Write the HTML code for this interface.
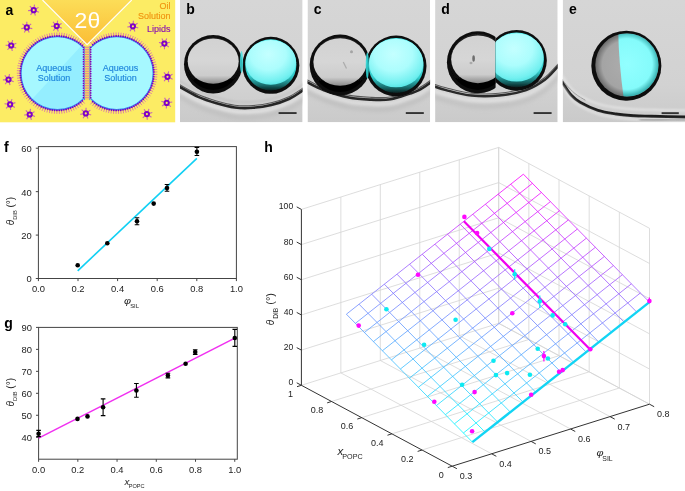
<!DOCTYPE html>
<html><head><meta charset="utf-8"><style>
html,body{margin:0;padding:0;background:#fff;}
svg{display:block;will-change:transform;}
text{font-family:"Liberation Sans", sans-serif;}
</style></head><body>
<svg width="685" height="491" viewBox="0 0 685 491">
<rect width="685" height="491" fill="#fff"/>
<rect x="0" y="0" width="175.2" height="122.3" fill="#FCEC64"/>
<defs><linearGradient id="tri" x1="0" y1="0" x2="0" y2="45" gradientUnits="userSpaceOnUse"><stop offset="0" stop-color="#FCDD58"/><stop offset="1" stop-color="#FBBD35"/></linearGradient></defs>
<polygon points="42.5,0 87.1,44.6 131.7,0" fill="url(#tri)"/>
<polyline points="42.5,0 87.1,44.6 131.7,0" fill="none" stroke="#fff" stroke-width="1.1"/>
<text transform="translate(87.4 27.7) scale(1.08 1)" font-size="21.3" fill="#fff" text-anchor="middle">2θ</text>
<defs><clipPath id="cl"><rect x="0" y="0" width="83.5" height="130"/></clipPath><clipPath id="cr"><rect x="90.7" y="0" width="100" height="130"/></clipPath><clipPath id="cl2"><circle cx="57.5" cy="73.2" r="37.1"/></clipPath></defs>
<path d="M82.73 101.34L84.67 103.5M80.94 102.86L82.73 105.13M79.05 104.26L80.7 106.64M77.07 105.54L78.58 108.02M75.03 106.69L76.37 109.26M72.91 107.72L74.09 110.36M70.73 108.61L71.75 111.32M68.51 109.36L69.35 112.14M66.24 109.98L66.91 112.8M63.94 110.45L64.43 113.31M61.61 110.78L61.92 113.66M59.26 110.96L59.4 113.86M56.91 111L56.87 113.9M54.56 110.89L54.34 113.78M52.23 110.63L51.82 113.5M49.91 110.23L49.33 113.07M47.62 109.69L46.86 112.49M45.37 109L44.44 111.75M43.17 108.18L42.07 110.86M41.02 107.22L39.76 109.83M38.94 106.13L37.52 108.66M36.93 104.91L35.35 107.35M35 103.57L33.27 105.9M33.15 102.11L31.28 104.33M31.4 100.54L29.4 102.64M29.75 98.87L27.62 100.84M28.21 97.09L25.96 98.93M26.78 95.23L24.42 96.92M25.47 93.28L23.01 94.82M24.29 91.25L21.74 92.63M23.23 89.15L20.6 90.37M22.3 86.98L19.6 88.04M21.51 84.77L18.75 85.66M20.86 82.51L18.05 83.22M20.36 80.21L17.51 80.75M19.99 77.89L17.11 78.25M19.77 75.55L16.88 75.73M19.7 73.2L16.8 73.2M19.77 70.85L16.88 70.67M19.99 68.51L17.11 68.15M20.36 66.19L17.51 65.65M20.86 63.89L18.05 63.18M21.51 61.63L18.75 60.74M22.3 59.42L19.6 58.36M23.23 57.25L20.6 56.03M24.29 55.15L21.74 53.77M25.47 53.12L23.01 51.58M26.78 51.17L24.42 49.48M28.21 49.31L25.96 47.47M29.75 47.53L27.62 45.56M31.4 45.86L29.4 43.76M33.15 44.29L31.28 42.07M35 42.83L33.27 40.5M36.93 41.49L35.35 39.05M38.94 40.27L37.52 37.74M41.02 39.18L39.76 36.57M43.17 38.22L42.07 35.54M45.37 37.4L44.44 34.65M47.62 36.71L46.86 33.91M49.91 36.17L49.33 33.33M52.23 35.77L51.82 32.9M54.56 35.51L54.34 32.62M56.91 35.4L56.87 32.5M59.26 35.44L59.4 32.54M61.61 35.62L61.92 32.74M63.94 35.95L64.43 33.09M66.24 36.42L66.91 33.6M68.51 37.04L69.35 34.26M70.73 37.79L71.75 35.08M72.91 38.68L74.09 36.04M75.03 39.71L76.37 37.14M77.07 40.86L78.58 38.38M79.05 42.14L80.7 39.76M80.94 43.54L82.73 41.27M82.73 45.06L84.67 42.9" stroke="#DC86A0" stroke-width="1.0" fill="none"/>
<circle cx="57.5" cy="73.2" r="37.1" fill="#A6F8FF" clip-path="url(#cl)"/>
<path d="M154.48 74.38L157.38 74.47M154.34 76.72L157.22 76.99M154.04 79.06L156.91 79.5M153.61 81.37L156.44 81.99M153.03 83.64L155.82 84.45M152.31 85.88L155.04 86.86M151.45 88.07L154.12 89.21M150.46 90.2L153.05 91.51M149.34 92.27L151.84 93.73M148.09 94.26L150.5 95.88M146.72 96.17L149.02 97.93M145.23 97.99L147.42 99.9M143.64 99.72L145.7 101.75M141.93 101.34L143.87 103.5M140.14 102.86L141.93 105.13M138.25 104.26L139.9 106.64M136.27 105.54L137.78 108.02M134.23 106.69L135.57 109.26M132.11 107.72L133.29 110.36M129.93 108.61L130.95 111.32M127.71 109.36L128.55 112.14M125.44 109.98L126.11 112.8M123.14 110.45L123.63 113.31M120.81 110.78L121.12 113.66M118.46 110.96L118.6 113.86M116.11 111L116.07 113.9M113.76 110.89L113.54 113.78M111.43 110.63L111.02 113.5M109.11 110.23L108.53 113.07M106.82 109.69L106.06 112.49M104.57 109L103.64 111.75M102.37 108.18L101.27 110.86M100.22 107.22L98.96 109.83M98.14 106.13L96.72 108.66M96.13 104.91L94.55 107.35M94.2 103.57L92.47 105.9M92.35 102.11L90.48 104.33M92.35 44.29L90.48 42.07M94.2 42.83L92.47 40.5M96.13 41.49L94.55 39.05M98.14 40.27L96.72 37.74M100.22 39.18L98.96 36.57M102.37 38.22L101.27 35.54M104.57 37.4L103.64 34.65M106.82 36.71L106.06 33.91M109.11 36.17L108.53 33.33M111.43 35.77L111.02 32.9M113.76 35.51L113.54 32.62M116.11 35.4L116.07 32.5M118.46 35.44L118.6 32.54M120.81 35.62L121.12 32.74M123.14 35.95L123.63 33.09M125.44 36.42L126.11 33.6M127.71 37.04L128.55 34.26M129.93 37.79L130.95 35.08M132.11 38.68L133.29 36.04M134.23 39.71L135.57 37.14M136.27 40.86L137.78 38.38M138.25 42.14L139.9 39.76M140.14 43.54L141.93 41.27M141.93 45.06L143.87 42.9M143.64 46.68L145.7 44.65M145.23 48.41L147.42 46.5M146.72 50.23L149.02 48.47M148.09 52.14L150.5 50.52M149.34 54.13L151.84 52.67M150.46 56.2L153.05 54.89M151.45 58.33L154.12 57.19M152.31 60.52L155.04 59.54M153.03 62.76L155.82 61.95M153.61 65.03L156.44 64.41M154.04 67.34L156.91 66.9M154.34 69.68L157.22 69.41M154.48 72.02L157.38 71.93" stroke="#DC86A0" stroke-width="1.0" fill="none"/>
<circle cx="116.7" cy="73.2" r="37.1" fill="#A6F8FF" clip-path="url(#cr)"/>
<polygon points="83.8,43 90,43 90,115 17.5,115" fill="#94EEFF" clip-path="url(#cl2)"/>
<circle cx="57.5" cy="73.2" r="36.5" fill="none" stroke="#3A90F0" stroke-width="1.3" clip-path="url(#cl)"/>
<circle cx="116.7" cy="73.2" r="36.5" fill="none" stroke="#3A90F0" stroke-width="1.3" clip-path="url(#cr)"/>
<g fill="#7A00C4"><circle cx="82.33" cy="100.9" r="0.95"/><circle cx="80.56" cy="102.39" r="0.95"/><circle cx="78.71" cy="103.76" r="0.95"/><circle cx="76.76" cy="105.02" r="0.95"/><circle cx="74.75" cy="106.16" r="0.95"/><circle cx="72.67" cy="107.17" r="0.95"/><circle cx="70.52" cy="108.05" r="0.95"/><circle cx="68.33" cy="108.79" r="0.95"/><circle cx="66.1" cy="109.39" r="0.95"/><circle cx="63.83" cy="109.86" r="0.95"/><circle cx="61.54" cy="110.18" r="0.95"/><circle cx="59.24" cy="110.36" r="0.95"/><circle cx="56.92" cy="110.4" r="0.95"/><circle cx="54.61" cy="110.29" r="0.95"/><circle cx="52.31" cy="110.04" r="0.95"/><circle cx="50.03" cy="109.64" r="0.95"/><circle cx="47.78" cy="109.11" r="0.95"/><circle cx="45.57" cy="108.43" r="0.95"/><circle cx="43.4" cy="107.62" r="0.95"/><circle cx="41.29" cy="106.68" r="0.95"/><circle cx="39.24" cy="105.61" r="0.95"/><circle cx="37.26" cy="104.41" r="0.95"/><circle cx="35.35" cy="103.09" r="0.95"/><circle cx="33.54" cy="101.66" r="0.95"/><circle cx="31.82" cy="100.11" r="0.95"/><circle cx="30.19" cy="98.46" r="0.95"/><circle cx="28.68" cy="96.72" r="0.95"/><circle cx="27.27" cy="94.88" r="0.95"/><circle cx="25.98" cy="92.96" r="0.95"/><circle cx="24.81" cy="90.96" r="0.95"/><circle cx="23.77" cy="88.89" r="0.95"/><circle cx="22.86" cy="86.77" r="0.95"/><circle cx="22.09" cy="84.59" r="0.95"/><circle cx="21.45" cy="82.36" r="0.95"/><circle cx="20.95" cy="80.1" r="0.95"/><circle cx="20.59" cy="77.82" r="0.95"/><circle cx="20.37" cy="75.51" r="0.95"/><circle cx="20.3" cy="73.2" r="0.95"/><circle cx="20.37" cy="70.89" r="0.95"/><circle cx="20.59" cy="68.58" r="0.95"/><circle cx="20.95" cy="66.3" r="0.95"/><circle cx="21.45" cy="64.04" r="0.95"/><circle cx="22.09" cy="61.81" r="0.95"/><circle cx="22.86" cy="59.63" r="0.95"/><circle cx="23.77" cy="57.51" r="0.95"/><circle cx="24.81" cy="55.44" r="0.95"/><circle cx="25.98" cy="53.44" r="0.95"/><circle cx="27.27" cy="51.52" r="0.95"/><circle cx="28.68" cy="49.68" r="0.95"/><circle cx="30.19" cy="47.94" r="0.95"/><circle cx="31.82" cy="46.29" r="0.95"/><circle cx="33.54" cy="44.74" r="0.95"/><circle cx="35.35" cy="43.31" r="0.95"/><circle cx="37.26" cy="41.99" r="0.95"/><circle cx="39.24" cy="40.79" r="0.95"/><circle cx="41.29" cy="39.72" r="0.95"/><circle cx="43.4" cy="38.78" r="0.95"/><circle cx="45.57" cy="37.97" r="0.95"/><circle cx="47.78" cy="37.29" r="0.95"/><circle cx="50.03" cy="36.76" r="0.95"/><circle cx="52.31" cy="36.36" r="0.95"/><circle cx="54.61" cy="36.11" r="0.95"/><circle cx="56.92" cy="36" r="0.95"/><circle cx="59.24" cy="36.04" r="0.95"/><circle cx="61.54" cy="36.22" r="0.95"/><circle cx="63.83" cy="36.54" r="0.95"/><circle cx="66.1" cy="37.01" r="0.95"/><circle cx="68.33" cy="37.61" r="0.95"/><circle cx="70.52" cy="38.35" r="0.95"/><circle cx="72.67" cy="39.23" r="0.95"/><circle cx="74.75" cy="40.24" r="0.95"/><circle cx="76.76" cy="41.38" r="0.95"/><circle cx="78.71" cy="42.64" r="0.95"/><circle cx="80.56" cy="44.01" r="0.95"/><circle cx="82.33" cy="45.5" r="0.95"/></g>
<g fill="#7A00C4"><circle cx="153.88" cy="74.36" r="0.95"/><circle cx="153.74" cy="76.67" r="0.95"/><circle cx="153.45" cy="78.96" r="0.95"/><circle cx="153.02" cy="81.24" r="0.95"/><circle cx="152.45" cy="83.48" r="0.95"/><circle cx="151.74" cy="85.68" r="0.95"/><circle cx="150.9" cy="87.84" r="0.95"/><circle cx="149.92" cy="89.93" r="0.95"/><circle cx="148.82" cy="91.97" r="0.95"/><circle cx="147.59" cy="93.93" r="0.95"/><circle cx="146.24" cy="95.81" r="0.95"/><circle cx="144.78" cy="97.6" r="0.95"/><circle cx="143.21" cy="99.3" r="0.95"/><circle cx="141.53" cy="100.9" r="0.95"/><circle cx="139.76" cy="102.39" r="0.95"/><circle cx="137.91" cy="103.76" r="0.95"/><circle cx="135.96" cy="105.02" r="0.95"/><circle cx="133.95" cy="106.16" r="0.95"/><circle cx="131.87" cy="107.17" r="0.95"/><circle cx="129.72" cy="108.05" r="0.95"/><circle cx="127.53" cy="108.79" r="0.95"/><circle cx="125.3" cy="109.39" r="0.95"/><circle cx="123.03" cy="109.86" r="0.95"/><circle cx="120.74" cy="110.18" r="0.95"/><circle cx="118.44" cy="110.36" r="0.95"/><circle cx="116.12" cy="110.4" r="0.95"/><circle cx="113.81" cy="110.29" r="0.95"/><circle cx="111.51" cy="110.04" r="0.95"/><circle cx="109.23" cy="109.64" r="0.95"/><circle cx="106.98" cy="109.11" r="0.95"/><circle cx="104.77" cy="108.43" r="0.95"/><circle cx="102.6" cy="107.62" r="0.95"/><circle cx="100.49" cy="106.68" r="0.95"/><circle cx="98.44" cy="105.61" r="0.95"/><circle cx="96.46" cy="104.41" r="0.95"/><circle cx="94.55" cy="103.09" r="0.95"/><circle cx="92.74" cy="101.66" r="0.95"/><circle cx="92.74" cy="44.74" r="0.95"/><circle cx="94.55" cy="43.31" r="0.95"/><circle cx="96.46" cy="41.99" r="0.95"/><circle cx="98.44" cy="40.79" r="0.95"/><circle cx="100.49" cy="39.72" r="0.95"/><circle cx="102.6" cy="38.78" r="0.95"/><circle cx="104.77" cy="37.97" r="0.95"/><circle cx="106.98" cy="37.29" r="0.95"/><circle cx="109.23" cy="36.76" r="0.95"/><circle cx="111.51" cy="36.36" r="0.95"/><circle cx="113.81" cy="36.11" r="0.95"/><circle cx="116.12" cy="36" r="0.95"/><circle cx="118.44" cy="36.04" r="0.95"/><circle cx="120.74" cy="36.22" r="0.95"/><circle cx="123.03" cy="36.54" r="0.95"/><circle cx="125.3" cy="37.01" r="0.95"/><circle cx="127.53" cy="37.61" r="0.95"/><circle cx="129.72" cy="38.35" r="0.95"/><circle cx="131.87" cy="39.23" r="0.95"/><circle cx="133.95" cy="40.24" r="0.95"/><circle cx="135.96" cy="41.38" r="0.95"/><circle cx="137.91" cy="42.64" r="0.95"/><circle cx="139.76" cy="44.01" r="0.95"/><circle cx="141.53" cy="45.5" r="0.95"/><circle cx="143.21" cy="47.1" r="0.95"/><circle cx="144.78" cy="48.8" r="0.95"/><circle cx="146.24" cy="50.59" r="0.95"/><circle cx="147.59" cy="52.47" r="0.95"/><circle cx="148.82" cy="54.43" r="0.95"/><circle cx="149.92" cy="56.47" r="0.95"/><circle cx="150.9" cy="58.56" r="0.95"/><circle cx="151.74" cy="60.72" r="0.95"/><circle cx="152.45" cy="62.92" r="0.95"/><circle cx="153.02" cy="65.16" r="0.95"/><circle cx="153.45" cy="67.44" r="0.95"/><circle cx="153.74" cy="69.73" r="0.95"/><circle cx="153.88" cy="72.04" r="0.95"/></g>
<rect x="84.1" y="46.3" width="6" height="53.8" fill="#F8D460"/>
<line x1="84.4" y1="46.3" x2="84.4" y2="100.1" stroke="#3A90F0" stroke-width="1.0"/>
<line x1="89.8" y1="46.3" x2="89.8" y2="100.1" stroke="#3A90F0" stroke-width="1.0"/>
<path d="M84 47.3H90.2M84 49.7H90.2M84 52.1H90.2M84 54.5H90.2M84 56.9H90.2M84 59.3H90.2M84 61.7H90.2M84 64.1H90.2M84 66.5H90.2M84 68.9H90.2M84 71.3H90.2M84 73.7H90.2M84 76.1H90.2M84 78.5H90.2M84 80.9H90.2M84 83.3H90.2M84 85.7H90.2M84 88.1H90.2M84 90.5H90.2M84 92.9H90.2M84 95.3H90.2M84 97.7H90.2" stroke="#D88C96" stroke-width="1.0"/>
<g fill="#7A00C4"><circle cx="83.5" cy="47.3" r="0.85"/><circle cx="90.7" cy="47.3" r="0.85"/><circle cx="83.5" cy="49.7" r="0.85"/><circle cx="90.7" cy="49.7" r="0.85"/><circle cx="83.5" cy="52.1" r="0.85"/><circle cx="90.7" cy="52.1" r="0.85"/><circle cx="83.5" cy="54.5" r="0.85"/><circle cx="90.7" cy="54.5" r="0.85"/><circle cx="83.5" cy="56.9" r="0.85"/><circle cx="90.7" cy="56.9" r="0.85"/><circle cx="83.5" cy="59.3" r="0.85"/><circle cx="90.7" cy="59.3" r="0.85"/><circle cx="83.5" cy="61.7" r="0.85"/><circle cx="90.7" cy="61.7" r="0.85"/><circle cx="83.5" cy="64.1" r="0.85"/><circle cx="90.7" cy="64.1" r="0.85"/><circle cx="83.5" cy="66.5" r="0.85"/><circle cx="90.7" cy="66.5" r="0.85"/><circle cx="83.5" cy="68.9" r="0.85"/><circle cx="90.7" cy="68.9" r="0.85"/><circle cx="83.5" cy="71.3" r="0.85"/><circle cx="90.7" cy="71.3" r="0.85"/><circle cx="83.5" cy="73.7" r="0.85"/><circle cx="90.7" cy="73.7" r="0.85"/><circle cx="83.5" cy="76.1" r="0.85"/><circle cx="90.7" cy="76.1" r="0.85"/><circle cx="83.5" cy="78.5" r="0.85"/><circle cx="90.7" cy="78.5" r="0.85"/><circle cx="83.5" cy="80.9" r="0.85"/><circle cx="90.7" cy="80.9" r="0.85"/><circle cx="83.5" cy="83.3" r="0.85"/><circle cx="90.7" cy="83.3" r="0.85"/><circle cx="83.5" cy="85.7" r="0.85"/><circle cx="90.7" cy="85.7" r="0.85"/><circle cx="83.5" cy="88.1" r="0.85"/><circle cx="90.7" cy="88.1" r="0.85"/><circle cx="83.5" cy="90.5" r="0.85"/><circle cx="90.7" cy="90.5" r="0.85"/><circle cx="83.5" cy="92.9" r="0.85"/><circle cx="90.7" cy="92.9" r="0.85"/><circle cx="83.5" cy="95.3" r="0.85"/><circle cx="90.7" cy="95.3" r="0.85"/><circle cx="83.5" cy="97.7" r="0.85"/><circle cx="90.7" cy="97.7" r="0.85"/></g>
<text x="54.1" y="71.3" font-size="9" fill="#1E86DC" text-anchor="middle" stroke="#1E86DC" stroke-width="0.15">Aqueous</text>
<text x="54.1" y="80.6" font-size="9" fill="#1E86DC" text-anchor="middle" stroke="#1E86DC" stroke-width="0.15">Solution</text>
<text x="120.4" y="71.3" font-size="9" fill="#1E86DC" text-anchor="middle" stroke="#1E86DC" stroke-width="0.15">Aqueous</text>
<text x="120.4" y="80.6" font-size="9" fill="#1E86DC" text-anchor="middle" stroke="#1E86DC" stroke-width="0.15">Solution</text>
<path d="M34.03 7.82L34.48 4.65M35.77 8.98L38.52 7.35M35.94 11.05L38.93 12.19M34.43 12.49L35.4 15.53M32.37 12.2L30.59 14.86M31.31 10.4L28.12 10.67M32.05 8.46L29.85 6.13" stroke="#C466B6" stroke-width="1.1" fill="none"/>
<circle cx="33.7" cy="10.2" r="2.1" fill="none" stroke="#7E00C6" stroke-width="2.0"/>
<path d="M26.8 25L26.8 21.8M28.68 25.9L31.18 23.91M29.14 27.93L32.26 28.65M27.84 29.56L29.23 32.45M25.76 29.56L24.37 32.45M24.46 27.93L21.34 28.65M24.92 25.9L22.42 23.91" stroke="#C466B6" stroke-width="1.1" fill="none"/>
<circle cx="26.8" cy="27.4" r="2.1" fill="none" stroke="#7E00C6" stroke-width="2.0"/>
<path d="M57.12 23.74L57.67 20.59M58.81 24.95L61.62 23.42M58.91 27.03L61.86 28.28M57.35 28.41L58.22 31.49M55.3 28.05L53.43 30.65M54.3 26.22L51.11 26.38M55.11 24.3L52.99 21.9" stroke="#C466B6" stroke-width="1.1" fill="none"/>
<circle cx="56.7" cy="26.1" r="2.1" fill="none" stroke="#7E00C6" stroke-width="2.0"/>
<path d="M133.11 23.91L133.39 20.72M134.9 24.97L137.57 23.2M135.18 27.04L138.23 28.02M133.75 28.54L134.88 31.54M131.67 28.36L130.04 31.11M130.52 26.63L127.35 27.07M131.16 24.65L128.84 22.44" stroke="#C466B6" stroke-width="1.1" fill="none"/>
<circle cx="132.9" cy="26.3" r="2.1" fill="none" stroke="#7E00C6" stroke-width="2.0"/>
<path d="M11.82 43.18L12.65 40.09M13.4 44.54L16.33 43.26M13.32 46.62L16.15 48.12M11.65 47.86L12.24 51M9.63 47.32L7.55 49.74M8.8 45.41L5.6 45.29M9.77 43.57L7.87 40.99" stroke="#C466B6" stroke-width="1.1" fill="none"/>
<circle cx="11.2" cy="45.5" r="2.1" fill="none" stroke="#7E00C6" stroke-width="2.0"/>
<path d="M165.41 41.42L166.77 38.52M166.73 43.04L169.84 42.29M166.29 45.07L168.82 47.04M164.43 46L164.47 49.2M162.54 45.12L160.07 47.15M162.05 43.1L158.93 42.42M163.33 41.45L161.91 38.59" stroke="#C466B6" stroke-width="1.1" fill="none"/>
<circle cx="164.4" cy="43.6" r="2.1" fill="none" stroke="#7E00C6" stroke-width="2.0"/>
<path d="M8.92 77.24L9.47 74.09M10.61 78.45L13.42 76.92M10.71 80.53L13.66 81.78M9.15 81.91L10.02 84.99M7.1 81.55L5.23 84.15M6.1 79.72L2.91 79.88M6.91 77.8L4.79 75.4" stroke="#C466B6" stroke-width="1.1" fill="none"/>
<circle cx="8.5" cy="79.6" r="2.1" fill="none" stroke="#7E00C6" stroke-width="2.0"/>
<path d="M168 74.45L168.66 71.32M169.65 75.73L172.51 74.3M169.68 77.81L172.58 79.15M168.07 79.13L168.83 82.24M166.03 78.7L164.07 81.23M165.1 76.84L161.9 76.88M165.98 74.95L163.94 72.47" stroke="#C466B6" stroke-width="1.1" fill="none"/>
<circle cx="167.5" cy="76.8" r="2.1" fill="none" stroke="#7E00C6" stroke-width="2.0"/>
<path d="M10.92 102.14L12.02 99.14M12.38 103.64L15.41 102.62M12.12 105.7L14.8 107.44M10.34 106.79L10.66 109.97M8.38 106.08L6.09 108.31M7.72 104.1L4.54 103.7M8.85 102.35L7.18 99.62" stroke="#C466B6" stroke-width="1.1" fill="none"/>
<circle cx="10.1" cy="104.4" r="2.1" fill="none" stroke="#7E00C6" stroke-width="2.0"/>
<path d="M30.03 112.12L30.48 108.95M31.77 113.28L34.52 111.65M31.94 115.35L34.93 116.49M30.43 116.79L31.4 119.83M28.37 116.5L26.59 119.16M27.31 114.7L24.12 114.97M28.05 112.76L25.85 110.43" stroke="#C466B6" stroke-width="1.1" fill="none"/>
<circle cx="29.7" cy="114.5" r="2.1" fill="none" stroke="#7E00C6" stroke-width="2.0"/>
<path d="M85.93 111L86.09 107.81M87.75 112L90.35 110.14M88.11 114.06L91.19 114.93M86.73 115.61L87.96 118.57M84.65 115.5L83.11 118.31M83.44 113.81L80.28 114.36M84 111.81L81.61 109.68" stroke="#C466B6" stroke-width="1.1" fill="none"/>
<circle cx="85.8" cy="113.4" r="2.1" fill="none" stroke="#7E00C6" stroke-width="2.0"/>
<path d="M147.8 111.87L149 108.91M149.2 113.42L152.27 112.5M148.87 115.47L151.5 117.3M147.06 116.49L147.26 119.69M145.12 115.71L142.76 117.87M144.53 113.72L141.37 113.21M145.72 112.01L144.15 109.22" stroke="#C466B6" stroke-width="1.1" fill="none"/>
<circle cx="146.9" cy="114.1" r="2.1" fill="none" stroke="#7E00C6" stroke-width="2.0"/>
<path d="M167.9 100.82L169.5 98.05M169.07 102.54L172.24 102.07M168.46 104.53L170.81 106.71M166.52 105.29L166.28 108.48M164.72 104.25L162.07 106.05M164.41 102.19L161.35 101.25M165.82 100.67L164.65 97.69" stroke="#C466B6" stroke-width="1.1" fill="none"/>
<circle cx="166.7" cy="102.9" r="2.1" fill="none" stroke="#7E00C6" stroke-width="2.0"/>
<text x="5.6" y="14.6" font-size="14" fill="#000" font-weight="bold">a</text>
<text x="170.6" y="9.3" font-size="9" fill="#F09410" text-anchor="end" stroke="#F09410" stroke-width="0.15">Oil</text>
<text x="170.6" y="18.6" font-size="9" fill="#F09410" text-anchor="end" stroke="#F09410" stroke-width="0.15">Solution</text>
<text x="170.6" y="31.5" font-size="9" fill="#8C14B0" text-anchor="end" stroke="#8C14B0" stroke-width="0.15">Lipids</text>
<defs>
<filter id="bl05" x="-20%" y="-20%" width="140%" height="140%"><feGaussianBlur stdDeviation="0.5"/></filter>
<filter id="bl1" x="-20%" y="-20%" width="140%" height="140%"><feGaussianBlur stdDeviation="0.8"/></filter><filter id="bl07" x="-20%" y="-20%" width="140%" height="140%"><feGaussianBlur stdDeviation="0.65"/></filter>
<filter id="bl2" x="-30%" y="-30%" width="160%" height="160%"><feGaussianBlur stdDeviation="1.6"/></filter>
<filter id="bl3" x="-30%" y="-30%" width="160%" height="160%"><feGaussianBlur stdDeviation="2.5"/></filter>
<linearGradient id="mbg" x1="0" y1="0" x2="0" y2="1"><stop offset="0" stop-color="#D6D6D6"/><stop offset="0.7" stop-color="#D2D2D2"/><stop offset="1" stop-color="#CACACA"/></linearGradient>
<radialGradient id="cin" cx="0.45" cy="0.32" r="0.78"><stop offset="0" stop-color="#C4FFFF"/><stop offset="0.45" stop-color="#ACFDFD"/><stop offset="0.78" stop-color="#72F0F0"/><stop offset="1" stop-color="#3AD8D8"/></radialGradient>
<linearGradient id="gin" x1="0" y1="0" x2="0" y2="1"><stop offset="0" stop-color="#D2D2D2"/><stop offset="0.5" stop-color="#D6D6D6"/><stop offset="0.82" stop-color="#CCCCCC"/><stop offset="1" stop-color="#8A8A8A"/></linearGradient>
<linearGradient id="cmid" x1="0" y1="0" x2="0" y2="1"><stop offset="0" stop-color="#50EEEE"/><stop offset="0.72" stop-color="#34CCCC"/><stop offset="0.9" stop-color="#186A6A"/><stop offset="1" stop-color="#082020"/></linearGradient>
<linearGradient id="gmid" x1="0" y1="0" x2="0" y2="1"><stop offset="0" stop-color="#202020"/><stop offset="1" stop-color="#000"/></linearGradient>
</defs>
<defs><clipPath id="mc0"><rect x="180" y="0" width="122.6" height="122.3"/></clipPath></defs>
<g clip-path="url(#mc0)">
<rect x="180" y="0" width="122.6" height="122.3" fill="url(#mbg)"/>
<path d="M178 90.5C181.37 92.32 191.78 98.52 198.2 101.4C204.62 104.28 210.42 106.03 216.5 107.8C222.58 109.57 228.62 111.25 234.7 112C240.78 112.75 246.92 112.7 253 112.3C259.08 111.9 265.12 111.12 271.2 109.6C277.28 108.08 284.47 105.48 289.5 103.2C294.53 100.92 298.82 97.6 301.4 95.9C303.98 94.2 304.4 93.48 305 93" stroke="#E6E6E6" stroke-width="3.5" fill="none" stroke-linecap="round" filter="url(#bl2)" opacity="1"/>
<path d="M178 95C181.37 96.82 191.78 103.02 198.2 105.9C204.62 108.78 210.42 110.53 216.5 112.3C222.58 114.07 228.62 115.75 234.7 116.5C240.78 117.25 246.92 117.2 253 116.8C259.08 116.4 265.12 115.62 271.2 114.1C277.28 112.58 284.47 109.98 289.5 107.7C294.53 105.42 298.82 102.1 301.4 100.4C303.98 98.7 304.4 97.98 305 97.5" stroke="#B8B8B8" stroke-width="3" fill="none" stroke-linecap="round" filter="url(#bl3)" opacity="1"/>
<path d="M178 80C181.37 81.82 191.78 88.02 198.2 90.9C204.62 93.78 210.42 95.53 216.5 97.3C222.58 99.07 228.62 100.75 234.7 101.5C240.78 102.25 246.92 102.2 253 101.8C259.08 101.4 265.12 100.62 271.2 99.1C277.28 97.58 284.47 94.98 289.5 92.7C294.53 90.42 298.82 87.1 301.4 85.4C303.98 83.7 304.4 82.98 305 82.5" stroke="#BDBDBD" stroke-width="1.2" fill="none" stroke-linecap="round" filter="url(#bl1)" opacity="1"/>
<path d="M178 83.7C181.37 85.52 191.78 91.72 198.2 94.6C204.62 97.48 210.42 99.23 216.5 101C222.58 102.77 228.62 104.45 234.7 105.2C240.78 105.95 246.92 105.9 253 105.5C259.08 105.1 265.12 104.32 271.2 102.8C277.28 101.28 284.47 98.68 289.5 96.4C294.53 94.12 298.82 90.8 301.4 89.1C303.98 87.4 304.4 86.68 305 86.2" stroke="#5A5A5A" stroke-width="1.1" fill="none" stroke-linecap="round" filter="url(#bl05)" opacity="1"/>
<path d="M178 86C181.37 87.82 191.78 94.02 198.2 96.9C204.62 99.78 210.42 101.53 216.5 103.3C222.58 105.07 228.62 106.75 234.7 107.5C240.78 108.25 246.92 108.2 253 107.8C259.08 107.4 265.12 106.62 271.2 105.1C277.28 103.58 284.47 100.98 289.5 98.7C294.53 96.42 298.82 93.1 301.4 91.4C303.98 89.7 304.4 88.98 305 88.5" stroke="#262626" stroke-width="2.6" fill="none" stroke-linecap="round" filter="url(#bl05)" opacity="1"/>
<g><circle cx="213.2" cy="64.2" r="29.2" fill="#0A0A0A" filter="url(#bl05)"/><circle cx="213.2" cy="63.7" r="26.3" fill="url(#gmid)" filter="url(#bl05)"/><ellipse cx="213.2" cy="61.2" rx="25.5" ry="22.6" fill="url(#gin)" filter="url(#bl07)"/></g>
<g><circle cx="270.8" cy="65.35" r="28.5" fill="#0A0A0A" filter="url(#bl05)"/><circle cx="270.8" cy="64.85" r="25.6" fill="url(#cmid)" filter="url(#bl05)"/><ellipse cx="270.8" cy="62.35" rx="25.3" ry="22.4" fill="url(#cin)" filter="url(#bl07)"/></g>
<ellipse cx="241.5" cy="62" rx="1.6" ry="11" fill="#40E8E8" opacity="0.8" filter="url(#bl05)"/>
<rect x="278.6" y="112.1" width="18" height="1.9" fill="#333"/>
</g>
<text x="186.2" y="14.4" font-size="14" fill="#000" font-weight="bold">b</text>
<defs><clipPath id="mc1"><rect x="307.5" y="0" width="122.6" height="122.3"/></clipPath></defs>
<g clip-path="url(#mc1)">
<rect x="307.5" y="0" width="122.6" height="122.3" fill="url(#mbg)"/>
<path d="M305 86C305.47 86.27 304.63 86.07 307.8 87.6C310.97 89.13 317.18 92.73 324 95.2C330.82 97.67 341.03 100.83 348.7 102.4C356.37 103.97 363.05 104.28 370 104.6C376.95 104.92 383.73 105.32 390.4 104.3C397.07 103.28 405.25 100.02 410 98.5C414.75 96.98 415.68 96.87 418.9 95.2C422.12 93.53 427.12 89.95 429.3 88.5C431.48 87.05 431.55 86.83 432 86.5" stroke="#E2E2E2" stroke-width="4" fill="none" stroke-linecap="round" filter="url(#bl2)" opacity="1"/>
<path d="M305 90C305.47 90.27 304.63 90.07 307.8 91.6C310.97 93.13 317.18 96.73 324 99.2C330.82 101.67 341.03 104.83 348.7 106.4C356.37 107.97 363.05 108.28 370 108.6C376.95 108.92 383.73 109.32 390.4 108.3C397.07 107.28 405.25 104.02 410 102.5C414.75 100.98 415.68 100.87 418.9 99.2C422.12 97.53 427.12 93.95 429.3 92.5C431.48 91.05 431.55 90.83 432 90.5" stroke="#B0B0B0" stroke-width="2.5" fill="none" stroke-linecap="round" filter="url(#bl3)" opacity="1"/>
<path d="M305 78.7C305.47 78.97 304.63 78.77 307.8 80.3C310.97 81.83 317.18 85.43 324 87.9C330.82 90.37 341.03 93.53 348.7 95.1C356.37 96.67 363.05 96.98 370 97.3C376.95 97.62 383.73 98.02 390.4 97C397.07 95.98 405.25 92.72 410 91.2C414.75 89.68 415.68 89.57 418.9 87.9C422.12 86.23 427.12 82.65 429.3 81.2C431.48 79.75 431.55 79.53 432 79.2" stroke="#5A5A5A" stroke-width="1.1" fill="none" stroke-linecap="round" filter="url(#bl05)" opacity="1"/>
<path d="M305 81C305.47 81.27 304.63 81.07 307.8 82.6C310.97 84.13 317.18 87.73 324 90.2C330.82 92.67 341.03 95.83 348.7 97.4C356.37 98.97 363.05 99.28 370 99.6C376.95 99.92 383.73 100.32 390.4 99.3C397.07 98.28 405.25 95.02 410 93.5C414.75 91.98 415.68 91.87 418.9 90.2C422.12 88.53 427.12 84.95 429.3 83.5C431.48 82.05 431.55 81.83 432 81.5" stroke="#262626" stroke-width="2.6" fill="none" stroke-linecap="round" filter="url(#bl05)" opacity="1"/>
<defs><clipPath id="cL"><rect x="300" y="0" width="67.6" height="130"/></clipPath></defs>
<g><circle cx="396.1" cy="66" r="30.4" fill="#0A0A0A" filter="url(#bl05)"/><circle cx="396.1" cy="65.5" r="27.5" fill="url(#cmid)" filter="url(#bl05)"/><ellipse cx="396.1" cy="63" rx="27.2" ry="24.3" fill="url(#cin)" filter="url(#bl07)"/></g>
<g clip-path="url(#cL)"><circle cx="340.1" cy="65" r="30.4" fill="#0A0A0A" filter="url(#bl05)"/><circle cx="340.1" cy="64.5" r="27.5" fill="url(#gmid)" filter="url(#bl05)"/><ellipse cx="340.1" cy="62" rx="26.7" ry="23.8" fill="url(#gin)" filter="url(#bl07)"/></g>
<ellipse cx="367.3" cy="65.5" rx="1.6" ry="13" fill="#30E0E0" opacity="0.85" filter="url(#bl05)"/>
<circle cx="351.5" cy="51.8" r="1.5" fill="#A4A4A4" filter="url(#bl05)"/><path d="M343.3 62L346.5 68.5" stroke="#ADADAD" stroke-width="1.3" filter="url(#bl05)"/>
<rect x="405.8" y="112.1" width="18" height="1.9" fill="#333"/>
</g>
<text x="313.7" y="14.4" font-size="14" fill="#000" font-weight="bold">c</text>
<defs><clipPath id="mc2"><rect x="435.1" y="0" width="122.6" height="122.3"/></clipPath></defs>
<g clip-path="url(#mc2)">
<rect x="435.1" y="0" width="122.6" height="122.3" fill="url(#mbg)"/>
<path d="M433 91C435.17 91.68 439.58 93.5 446 95.1C452.42 96.7 462.68 99.68 471.5 100.6C480.32 101.52 489.78 101.52 498.9 100.6C508.02 99.68 518.6 97.68 526.2 95.1C533.8 92.52 539.47 88.75 544.5 85.1C549.53 81.45 553.82 75.88 556.4 73.2C558.98 70.52 559.4 69.7 560 69" stroke="#E2E2E2" stroke-width="4" fill="none" stroke-linecap="round" filter="url(#bl2)" opacity="1"/>
<path d="M433 96C435.17 96.68 439.58 98.5 446 100.1C452.42 101.7 462.68 104.68 471.5 105.6C480.32 106.52 489.78 106.52 498.9 105.6C508.02 104.68 518.6 102.68 526.2 100.1C533.8 97.52 539.47 93.75 544.5 90.1C549.53 86.45 553.82 80.88 556.4 78.2C558.98 75.52 559.4 74.7 560 74" stroke="#B4B4B4" stroke-width="2.5" fill="none" stroke-linecap="round" filter="url(#bl3)" opacity="1"/>
<path d="M433 83.7C435.17 84.38 439.58 86.2 446 87.8C452.42 89.4 462.68 92.38 471.5 93.3C480.32 94.22 489.78 94.22 498.9 93.3C508.02 92.38 518.6 90.38 526.2 87.8C533.8 85.22 539.47 81.45 544.5 77.8C549.53 74.15 553.82 68.58 556.4 65.9C558.98 63.22 559.4 62.4 560 61.7" stroke="#5A5A5A" stroke-width="1.1" fill="none" stroke-linecap="round" filter="url(#bl05)" opacity="1"/>
<path d="M433 86C435.17 86.68 439.58 88.5 446 90.1C452.42 91.7 462.68 94.68 471.5 95.6C480.32 96.52 489.78 96.52 498.9 95.6C508.02 94.68 518.6 92.68 526.2 90.1C533.8 87.52 539.47 83.75 544.5 80.1C549.53 76.45 553.82 70.88 556.4 68.2C558.98 65.52 559.4 64.7 560 64" stroke="#2A2A2A" stroke-width="2.5" fill="none" stroke-linecap="round" filter="url(#bl05)" opacity="1"/>
<defs><clipPath id="dl"><rect x="400" y="0" width="95.6" height="130"/></clipPath><clipPath id="dr"><rect x="495.6" y="0" width="100" height="130"/></clipPath></defs>
<g clip-path="url(#dl)"><circle cx="477.9" cy="62.35" r="31" fill="#0A0A0A" filter="url(#bl05)"/><circle cx="477.9" cy="61.85" r="28.1" fill="url(#gmid)" filter="url(#bl05)"/><ellipse cx="477.9" cy="59.35" rx="26.7" ry="23.8" fill="url(#gin)" filter="url(#bl07)"/></g>
<g clip-path="url(#dr)"><circle cx="516.5" cy="60.35" r="30.3" fill="#0A0A0A" filter="url(#bl05)"/><circle cx="516.5" cy="59.85" r="27.4" fill="url(#cmid)" filter="url(#bl05)"/><ellipse cx="516.5" cy="57.35" rx="27.1" ry="24.2" fill="url(#cin)" filter="url(#bl07)"/></g>
<ellipse cx="473.6" cy="58.5" rx="1.3" ry="3.2" fill="#6E6E6E" filter="url(#bl05)"/><ellipse cx="471" cy="63" rx="1.5" ry="1.2" fill="#AAA" filter="url(#bl05)"/>
<rect x="533.6" y="112.1" width="18" height="1.9" fill="#333"/>
</g>
<text x="441.3" y="14.4" font-size="14" fill="#000" font-weight="bold">d</text>
<defs><clipPath id="mc3"><rect x="562.7" y="0" width="122.6" height="122.3"/></clipPath></defs>
<g clip-path="url(#mc3)">
<rect x="562.7" y="0" width="122.6" height="122.3" fill="url(#mbg)"/>
<path d="M561 78C561.83 79.08 563.67 81.92 566 84.5C568.33 87.08 571.83 90.92 575 93.5C578.17 96.08 583.33 98.92 585 100" stroke="#6A6A6A" stroke-width="1" fill="none" stroke-linecap="round" filter="url(#bl05)" opacity="1"/>
<path d="M561 75C561.32 75.33 561.23 74.73 562.9 77C564.57 79.27 568.15 85.47 571 88.6C573.85 91.73 575.52 93.25 580 95.8C584.48 98.35 591.92 101.95 597.9 103.9C603.88 105.85 609.92 106.6 615.9 107.5C621.88 108.4 627.82 108.92 633.8 109.3C639.78 109.68 643.1 109.6 651.8 109.8C660.5 110 680.3 110.38 686 110.5" stroke="#E4E4E4" stroke-width="2" fill="none" stroke-linecap="round" filter="url(#bl1)" opacity="1"/>
<path d="M561 81.5C561.32 81.83 561.23 81.23 562.9 83.5C564.57 85.77 568.15 91.97 571 95.1C573.85 98.23 575.52 99.75 580 102.3C584.48 104.85 591.92 108.45 597.9 110.4C603.88 112.35 609.92 113.1 615.9 114C621.88 114.9 627.82 115.42 633.8 115.8C639.78 116.18 643.1 116.1 651.8 116.3C660.5 116.5 680.3 116.88 686 117" stroke="#1E1E1E" stroke-width="2.9" fill="none" stroke-linecap="round" filter="url(#bl05)" opacity="1"/>
<path d="M561 85C561.32 85.33 561.23 84.73 562.9 87C564.57 89.27 568.15 95.47 571 98.6C573.85 101.73 575.52 103.25 580 105.8C584.48 108.35 591.92 111.95 597.9 113.9C603.88 115.85 609.92 116.6 615.9 117.5C621.88 118.4 627.82 118.92 633.8 119.3C639.78 119.68 643.1 119.6 651.8 119.8C660.5 120 680.3 120.38 686 120.5" stroke="#E4E4E4" stroke-width="2" fill="none" stroke-linecap="round" filter="url(#bl1)" opacity="1"/>
<path d="M640 119.3C643.33 119.35 652.33 119.48 660 119.6C667.67 119.72 681.67 119.93 686 120" stroke="#707070" stroke-width="1.2" fill="none" stroke-linecap="round" filter="url(#bl1)" opacity="1"/>
<defs><clipPath id="ec"><circle cx="626.9" cy="65.0" r="31.6"/></clipPath><radialGradient id="egr" gradientUnits="userSpaceOnUse" cx="626.9" cy="65.0" r="31.6"><stop offset="0" stop-color="#ADADAD"/><stop offset="0.78" stop-color="#A4A4A4"/><stop offset="1" stop-color="#6A6A6A"/></radialGradient><radialGradient id="ecy" gradientUnits="userSpaceOnUse" cx="626.9" cy="64" r="31.6"><stop offset="0" stop-color="#92FFFF"/><stop offset="0.8" stop-color="#84FBFB"/><stop offset="1" stop-color="#3AB4B4"/></radialGradient></defs>
<circle cx="626.35" cy="65.7" r="35" fill="#0A0A0A" filter="url(#bl05)"/>
<circle cx="626.9" cy="65.0" r="31.6" fill="url(#egr)" filter="url(#bl05)"/>
<g clip-path="url(#ec)"><path d="M618.2 30 Q618.6 62 624.1 101 L665 101 L665 30Z" fill="url(#ecy)" filter="url(#bl05)"/></g>
<rect x="661.6" y="112.2" width="17.2" height="1.9" fill="#333"/>
</g>
<text x="568.9" y="14.4" font-size="14" fill="#000" font-weight="bold">e</text>
<rect x="38.4" y="146.6" width="198" height="131.9" fill="none" stroke="#444" stroke-width="1"/>
<text x="31.8" y="282.4" font-size="9.4" fill="#222" text-anchor="end">0</text>
<text x="31.8" y="238.98" font-size="9.4" fill="#222" text-anchor="end">20</text>
<text x="31.8" y="195.55" font-size="9.4" fill="#222" text-anchor="end">40</text>
<text x="31.8" y="152.13" font-size="9.4" fill="#222" text-anchor="end">60</text>
<text x="38.4" y="292.3" font-size="9.4" fill="#222" text-anchor="middle">0.0</text>
<text x="78" y="292.3" font-size="9.4" fill="#222" text-anchor="middle">0.2</text>
<text x="117.6" y="292.3" font-size="9.4" fill="#222" text-anchor="middle">0.4</text>
<text x="157.2" y="292.3" font-size="9.4" fill="#222" text-anchor="middle">0.6</text>
<text x="196.8" y="292.3" font-size="9.4" fill="#222" text-anchor="middle">0.8</text>
<text x="236.4" y="292.3" font-size="9.4" fill="#222" text-anchor="middle">1.0</text>
<path d="M35.8 278.5H38.4M35.8 235.08H38.4M35.8 191.65H38.4M35.8 148.23H38.4M38.4 278.5V281.1M78 278.5V281.1M117.6 278.5V281.1M157.2 278.5V281.1M196.8 278.5V281.1M236.4 278.5V281.1" stroke="#444" stroke-width="1"/>
<line x1="77.7" y1="270.8" x2="196.9" y2="158.4" stroke="#10D0F4" stroke-width="1.6"/>
<circle cx="77.7" cy="265.2" r="2.3" fill="#000"/>
<circle cx="107.3" cy="243.2" r="2.3" fill="#000"/>
<path d="M137 217.7V224.8M134.7 217.7H139.3M134.7 224.8H139.3" stroke="#000" stroke-width="1.1" fill="none"/>
<circle cx="137" cy="221.2" r="2.3" fill="#000"/>
<circle cx="153.7" cy="203.6" r="2.3" fill="#000"/>
<path d="M167 184.5V191.2M164.7 184.5H169.3M164.7 191.2H169.3" stroke="#000" stroke-width="1.1" fill="none"/>
<circle cx="167" cy="188.1" r="2.3" fill="#000"/>
<path d="M196.9 147.4V155.5M194.6 147.4H199.2M194.6 155.5H199.2" stroke="#000" stroke-width="1.1" fill="none"/>
<circle cx="196.9" cy="151.75" r="2.3" fill="#000"/>
<text x="4" y="151.6" font-size="14" fill="#000" font-weight="bold">f</text>
<text transform="translate(14.1 225.2) rotate(-90)" font-size="10" fill="#222"><tspan font-style="italic">θ</tspan><tspan font-size="5.7" dy="3">DIB</tspan><tspan dy="-3"> (°)</tspan></text>
<text transform="translate(124.0 304.2) scale(1.2 1)" font-size="9" font-style="italic" fill="#222">φ</text>
<text x="130.2" y="307.5" font-size="5.9" fill="#222">SIL</text>
<rect x="38.6" y="327.4" width="198.7" height="131.8" fill="none" stroke="#444" stroke-width="1"/>
<text x="32" y="441.13" font-size="9.4" fill="#222" text-anchor="end">40</text>
<text x="32" y="419.17" font-size="9.4" fill="#222" text-anchor="end">50</text>
<text x="32" y="397.2" font-size="9.4" fill="#222" text-anchor="end">60</text>
<text x="32" y="375.23" font-size="9.4" fill="#222" text-anchor="end">70</text>
<text x="32" y="353.27" font-size="9.4" fill="#222" text-anchor="end">80</text>
<text x="32" y="331.3" font-size="9.4" fill="#222" text-anchor="end">90</text>
<text x="38.6" y="473" font-size="9.4" fill="#222" text-anchor="middle">0.0</text>
<text x="77.83" y="473" font-size="9.4" fill="#222" text-anchor="middle">0.2</text>
<text x="117.06" y="473" font-size="9.4" fill="#222" text-anchor="middle">0.4</text>
<text x="156.29" y="473" font-size="9.4" fill="#222" text-anchor="middle">0.6</text>
<text x="195.52" y="473" font-size="9.4" fill="#222" text-anchor="middle">0.8</text>
<text x="234.75" y="473" font-size="9.4" fill="#222" text-anchor="middle">1.0</text>
<path d="M36 437.23H38.6M36 415.27H38.6M36 393.3H38.6M36 371.33H38.6M36 349.37H38.6M36 327.4H38.6M38.6 459.2V461.8M77.83 459.2V461.8M117.06 459.2V461.8M156.29 459.2V461.8M195.52 459.2V461.8M234.75 459.2V461.8" stroke="#444" stroke-width="1"/>
<line x1="38.6" y1="438.1" x2="234.8" y2="338.2" stroke="#F030F0" stroke-width="1.5"/>
<path d="M38.6 430.4V436.6M36.3 430.4H40.9M36.3 436.6H40.9" stroke="#000" stroke-width="1.1" fill="none"/>
<circle cx="38.6" cy="433.7" r="2.3" fill="#000"/>
<circle cx="77.5" cy="418.9" r="2.3" fill="#000"/>
<circle cx="87.5" cy="416.4" r="2.3" fill="#000"/>
<path d="M103.1 398.9V415.6M100.8 398.9H105.4M100.8 415.6H105.4" stroke="#000" stroke-width="1.1" fill="none"/>
<circle cx="103.1" cy="407.2" r="2.3" fill="#000"/>
<path d="M136.4 383.5V397.2M134.1 383.5H138.7M134.1 397.2H138.7" stroke="#000" stroke-width="1.1" fill="none"/>
<circle cx="136.4" cy="390.5" r="2.3" fill="#000"/>
<path d="M167.9 373.2V377.9M165.6 373.2H170.2M165.6 377.9H170.2" stroke="#000" stroke-width="1.1" fill="none"/>
<circle cx="167.9" cy="375.5" r="2.3" fill="#000"/>
<circle cx="185.6" cy="363.8" r="2.3" fill="#000"/>
<path d="M195.2 349.7V354.4M192.9 349.7H197.5M192.9 354.4H197.5" stroke="#000" stroke-width="1.1" fill="none"/>
<circle cx="195.2" cy="352" r="2.3" fill="#000"/>
<path d="M234.8 329.4V346.4M232.5 329.4H237.1M232.5 346.4H237.1" stroke="#000" stroke-width="1.1" fill="none"/>
<circle cx="234.8" cy="338" r="2.3" fill="#000"/>
<text x="4.2" y="328" font-size="14" fill="#000" font-weight="bold">g</text>
<text transform="translate(14.1 406.4) rotate(-90)" font-size="10" fill="#222"><tspan font-style="italic">θ</tspan><tspan font-size="5.7" dy="3">DIB</tspan><tspan dy="-3"> (°)</tspan></text>
<text x="124.4" y="485.0" font-size="9.8" fill="#222"><tspan font-style="italic">x</tspan><tspan font-size="5.6" dy="3.3" dx="-0.6">POPC</tspan></text>
<path d="M340.86 372.9L340.86 197M380.32 360.5L380.32 184.6M419.78 348.1L419.78 172.2M459.24 335.7L459.24 159.8M498.7 323.3L498.7 147.4M301.4 350.12L498.7 288.12M301.4 314.94L498.7 252.94M301.4 279.76L498.7 217.76M301.4 244.58L498.7 182.58M301.4 209.4L498.7 147.4M649.5 404.2L649.5 228.3M619.34 388.02L619.34 212.12M589.18 371.84L589.18 195.94M559.02 355.66L559.02 179.76M528.86 339.48L528.86 163.58M498.7 323.3L498.7 147.4M649.5 404.2L498.7 323.3M649.5 369.02L498.7 288.12M649.5 333.84L498.7 252.94M649.5 298.66L498.7 217.76M649.5 263.48L498.7 182.58M649.5 228.3L498.7 147.4M491.66 453.8L340.86 372.9M531.12 441.4L380.32 360.5M570.58 429L419.78 348.1M610.04 416.6L459.24 335.7M649.5 404.2L498.7 323.3M422.04 450.02L619.34 388.02M391.88 433.84L589.18 371.84M361.72 417.66L559.02 355.66M331.56 401.48L528.86 339.48M301.4 385.3L498.7 323.3" stroke="#D4D4D4" stroke-width="0.8" fill="none"/>
<path d="M301.4 385.3L301.4 209.4M452.2 466.2L301.4 385.3M452.2 466.2L649.5 404.2M301.4 385.3L296.73 382.79M301.4 350.12L296.73 347.61M301.4 314.94L296.73 312.43M301.4 279.76L296.73 277.25M301.4 244.58L296.73 242.07M301.4 209.4L296.73 206.89M452.2 466.2L447.81 467.58M422.04 450.02L417.65 451.4M391.88 433.84L387.49 435.22M361.72 417.66L357.33 419.04M331.56 401.48L327.17 402.86M301.4 385.3L297.01 386.68M452.2 466.2L456.87 468.71M491.66 453.8L496.33 456.31M531.12 441.4L535.79 443.91M570.58 429L575.25 431.51M610.04 416.6L614.71 419.11M649.5 404.2L654.17 406.71" stroke="#333" stroke-width="1" fill="none"/>
<text x="293.2" y="385.29" font-size="8.6" fill="#222" text-anchor="end">0</text>
<text x="293.2" y="350.11" font-size="8.6" fill="#222" text-anchor="end">20</text>
<text x="293.2" y="314.93" font-size="8.6" fill="#222" text-anchor="end">40</text>
<text x="293.2" y="279.75" font-size="8.6" fill="#222" text-anchor="end">60</text>
<text x="293.2" y="244.57" font-size="8.6" fill="#222" text-anchor="end">80</text>
<text x="293.2" y="209.39" font-size="8.6" fill="#222" text-anchor="end">100</text>
<text x="443.8" y="477.89" font-size="9" fill="#222" text-anchor="end">0</text>
<text x="413.64" y="461.71" font-size="9" fill="#222" text-anchor="end">0.2</text>
<text x="383.48" y="445.53" font-size="9" fill="#222" text-anchor="end">0.4</text>
<text x="353.32" y="429.35" font-size="9" fill="#222" text-anchor="end">0.6</text>
<text x="323.16" y="413.17" font-size="9" fill="#222" text-anchor="end">0.8</text>
<text x="293" y="396.99" font-size="9" fill="#222" text-anchor="end">1</text>
<text x="459.7" y="479.19" font-size="9" fill="#222">0.3</text>
<text x="499.16" y="466.8" font-size="9" fill="#222">0.4</text>
<text x="538.62" y="454.39" font-size="9" fill="#222">0.5</text>
<text x="578.08" y="442" font-size="9" fill="#222">0.6</text>
<text x="617.54" y="429.6" font-size="9" fill="#222">0.7</text>
<text x="657" y="417.19" font-size="9" fill="#222">0.8</text>
<text x="264.2" y="151.8" font-size="14" fill="#000" font-weight="bold">h</text>
<text transform="translate(273.9 325.2) rotate(-90)" font-size="10" fill="#222"><tspan font-style="italic">θ</tspan><tspan font-size="6.6" dy="3.6" dx="1.0">DIB</tspan><tspan dy="-3.6" font-size="11"> (°)</tspan></text>
<text x="337.4" y="454.6" font-size="11.5" fill="#222"><tspan font-style="italic">x</tspan><tspan font-size="7.2" dy="4.1" dx="-0.9">POPC</tspan></text>
<text transform="translate(596.6 455.6) scale(1.2 1)" font-size="9" font-style="italic" fill="#222">φ</text>
<text x="602.3" y="460.8" font-size="6.9" fill="#222">SIL</text>
<defs><linearGradient id="mg" gradientUnits="userSpaceOnUse" x1="472.4" y1="442.1" x2="502.84" y2="171.8"><stop offset="0" stop-color="#00FFFF"/><stop offset="1" stop-color="#FF00FF"/></linearGradient></defs>
<path d="M472.4 442.1L346.4 314.2M472.4 442.1L649.4 302.1M485.04 432.1L359.04 304.2M463.4 432.96L640.4 292.96M497.69 422.1L371.69 294.2M454.4 423.83L631.4 283.83M510.33 412.1L384.33 284.2M445.4 414.69L622.4 274.69M522.97 402.1L396.97 274.2M436.4 405.56L613.4 265.56M535.61 392.1L409.61 264.2M427.4 396.42L604.4 256.42M548.26 382.1L422.26 254.2M418.4 387.29L595.4 247.29M560.9 372.1L434.9 244.2M409.4 378.15L586.4 238.15M573.54 362.1L447.54 234.2M400.4 369.01L577.4 229.01M586.19 352.1L460.19 224.2M391.4 359.88L568.4 219.88M598.83 342.1L472.83 214.2M382.4 350.74L559.4 210.74M611.47 332.1L485.47 204.2M373.4 341.61L550.4 201.61M624.11 322.1L498.11 194.2M364.4 332.47L541.4 192.47M636.76 312.1L510.76 184.2M355.4 323.34L532.4 183.34M649.4 302.1L523.4 174.2M346.4 314.2L523.4 174.2" stroke="url(#mg)" stroke-width="0.82" fill="none"/>
<line x1="472.4" y1="442.1" x2="649.4" y2="302.1" stroke="#12D4F4" stroke-width="2.4"/>
<line x1="463.9" y1="221.3" x2="589.9" y2="349.2" stroke="#F000F0" stroke-width="2.2"/>
<circle cx="489.3" cy="248.9" r="2.3" fill="#0CEAF2"/>
<line x1="514.7" y1="269.2" x2="514.7" y2="279.4" stroke="#0CEAF2" stroke-width="1.2"/>
<circle cx="514.7" cy="274.3" r="2.3" fill="#0CEAF2"/>
<line x1="539.8" y1="295.6" x2="539.8" y2="307.9" stroke="#0CEAF2" stroke-width="1.2"/>
<circle cx="539.8" cy="301.3" r="2.3" fill="#0CEAF2"/>
<circle cx="552.6" cy="315.4" r="2.3" fill="#0CEAF2"/>
<circle cx="565.2" cy="324.2" r="2.3" fill="#0CEAF2"/>
<circle cx="537.7" cy="348.7" r="2.3" fill="#0CEAF2"/>
<circle cx="547.9" cy="358.5" r="2.3" fill="#0CEAF2"/>
<circle cx="507.1" cy="373.1" r="2.3" fill="#0CEAF2"/>
<circle cx="529.9" cy="374.8" r="2.3" fill="#0CEAF2"/>
<circle cx="386.4" cy="309.3" r="2.3" fill="#0CEAF2"/>
<circle cx="424.1" cy="344.7" r="2.3" fill="#0CEAF2"/>
<circle cx="455.6" cy="319.7" r="2.3" fill="#0CEAF2"/>
<circle cx="493.5" cy="360.7" r="2.3" fill="#0CEAF2"/>
<circle cx="495.9" cy="375.1" r="2.3" fill="#0CEAF2"/>
<circle cx="462.1" cy="384.7" r="2.3" fill="#0CEAF2"/>
<circle cx="464.4" cy="216.9" r="2.3" fill="#FF08FF"/>
<circle cx="477.1" cy="233" r="2.3" fill="#FF08FF"/>
<circle cx="418" cy="274.8" r="2.3" fill="#FF08FF"/>
<circle cx="358.7" cy="325.6" r="2.3" fill="#FF08FF"/>
<circle cx="512.3" cy="313.2" r="2.3" fill="#FF08FF"/>
<line x1="543.9" y1="351" x2="543.9" y2="361.6" stroke="#FF08FF" stroke-width="1.2"/>
<circle cx="543.9" cy="356.1" r="2.3" fill="#FF08FF"/>
<circle cx="559.1" cy="371.8" r="2.3" fill="#FF08FF"/>
<circle cx="562.7" cy="370.1" r="2.3" fill="#FF08FF"/>
<circle cx="590.3" cy="349.3" r="2.3" fill="#FF08FF"/>
<circle cx="531.2" cy="394.8" r="2.3" fill="#FF08FF"/>
<circle cx="474.6" cy="392.1" r="2.3" fill="#FF08FF"/>
<circle cx="434.3" cy="401.7" r="2.3" fill="#FF08FF"/>
<circle cx="472.1" cy="431.3" r="2.3" fill="#FF08FF"/>
<line x1="649.4" y1="297.5" x2="649.4" y2="303" stroke="#FF08FF" stroke-width="1.2"/>
<circle cx="649.4" cy="301.1" r="2.3" fill="#FF08FF"/>
</svg></body></html>
